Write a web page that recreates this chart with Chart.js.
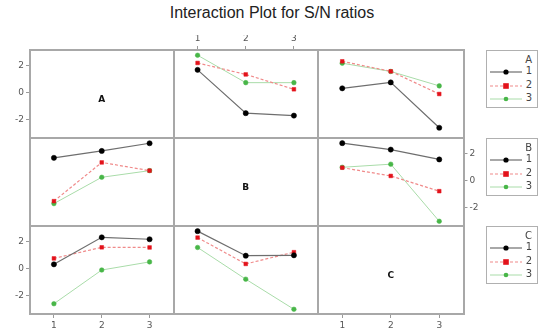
<!DOCTYPE html>
<html><head><meta charset="utf-8">
<script src="https://cdn.jsdelivr.net/npm/chart.js@4/dist/chart.umd.min.js"></script>
<style>
html,body{margin:0;padding:0;background:#fff;}
#wrap{position:relative;width:544px;height:329px;overflow:hidden;font-family:"DejaVu Sans",sans-serif;}
#wrap canvas{position:absolute;left:0;top:0;}
.ln{position:absolute;background:#a8a8a8;}
.diag{position:absolute;font-weight:bold;font-size:9px;color:#111;transform:translate(-50%,-50%);}
.leg{position:absolute;width:50px;height:56px;border:1.5px solid #b0b0b0;background:#fff;font-size:10px;color:#444;}
.leg .t{position:absolute;right:5px;top:3px;}
.leg .r{position:absolute;right:5px;}
.leg svg{position:absolute;left:3px;}
#title{position:absolute;left:0;width:544px;top:4px;text-align:center;font-family:"Liberation Sans",sans-serif;font-size:16px;color:#222;}
</style></head>
<body>
<div id="wrap"><div id="title">Interaction Plot for S/N ratios</div></div>
<script>
// ---- data ----
const factors = ['A', 'B', 'C'];
const levels = [1, 2, 3];
const levelLabels = ['1', '2', '3'];
const yTicks = [-2, 0, 2];
// rows = line factor levels, columns = x factor levels 1..3
const A_vs_B = [[1.70, -1.51, -1.69], [2.21, 1.36, 0.26], [2.78, 0.75, 0.75]];
const A_vs_C = [[0.33, 0.77, -2.59], [2.33, 1.59, -0.09], [2.19, 1.58, 0.51]];
const B_vs_A = [[1.70, 2.21, 2.78], [-1.51, 1.36, 0.75], [-1.69, 0.26, 0.75]];
const B_vs_C = [[2.79, 2.31, 1.58], [0.97, 0.36, -0.77], [1.00, 1.23, -3.00]];
const C_vs_A = [[0.33, 2.33, 2.19], [0.77, 1.59, 1.58], [-2.59, -0.09, 0.51]];
const C_vs_B = [[2.79, 0.97, 1.00], [2.31, 0.36, 1.23], [1.58, -0.77, -3.00]];

// ---- layout ----
const W = 544, H = 329;
const colEdges = [30, 173.5, 318, 463.5];
const rowEdges = [50, 138, 226, 314];
const Y_MIN = -3.35, Y_MAX = 3.17;
const X_MIN = 0.5, X_MAX = 3.5;
const AXIS = 15;
const styles = [
  {line: '#6e6e6e', fill: '#000000', point: 'circle', r: 2.6, w: 1.2, dash: []},
  {line: '#f08a8a', fill: '#e3121b', point: 'rect', r: 2.6, w: 1.2, dash: [3, 2]},
  {line: '#a9dca9', fill: '#48b648', point: 'circle', r: 2.3, w: 1, dash: []}
];
const tickFont = {family: '"DejaVu Sans", sans-serif', size: 9};
const wrap = document.getElementById('wrap');

function panel(r, c, data, xPos, yPos) {
  const cv = document.createElement('canvas');
  cv.width = W; cv.height = H;
  wrap.appendChild(cv);
  const L = colEdges[c], R = colEdges[c + 1], T = rowEdges[r], B = rowEdges[r + 1];
  const pad = {left: L, top: T, right: W - R, bottom: H - B};
  let xSize = 0, ySize = 0;
  if (xPos === 'top') { xSize = AXIS; pad.top -= AXIS; }
  if (xPos === 'bottom') { xSize = AXIS; pad.bottom -= AXIS; }
  if (yPos === 'left') { ySize = AXIS; pad.left -= AXIS; }
  if (yPos === 'right') { ySize = AXIS; pad.right -= AXIS; }
  const axisCommon = {
    grid: {drawOnChartArea: false, tickLength: 4, color: '#9a9a9a', lineWidth: 1},
    border: {display: false},
    ticks: {font: tickFont, color: '#555', padding: 2, autoSkip: false, maxRotation: 0}
  };
  const datasets = data ? data.map((vals, i) => ({
    label: levelLabels[i],
    data: levels.map((x, j) => ({x: x, y: vals[j]})),
    borderColor: styles[i].line,
    borderWidth: styles[i].w,
    borderDash: styles[i].dash,
    pointStyle: styles[i].point,
    pointRadius: styles[i].r,
    pointBackgroundColor: styles[i].fill,
    pointBorderColor: styles[i].fill,
    pointBorderWidth: 0.5,
    fill: false,
    tension: 0,
    clip: false
  })) : [];
  new Chart(cv, {
    type: 'line',
    data: {datasets},
    options: {
      responsive: false, animation: false, devicePixelRatio: 1,
      layout: {padding: pad},
      plugins: {legend: {display: false}, title: {display: false}, tooltip: {enabled: false}},
      events: [],
      scales: {
        x: Object.assign({}, axisCommon, {
          type: 'linear', min: X_MIN, max: X_MAX,
          position: xPos || 'bottom', display: !!xPos,
          afterBuildTicks: s => { s.ticks = levels.map(v => ({value: v})); },
          afterFit: s => { s.height = xSize; },
          ticks: Object.assign({}, axisCommon.ticks, {callback: v => String(v)})
        }),
        y: Object.assign({}, axisCommon, {
          type: 'linear', min: Y_MIN, max: Y_MAX,
          position: yPos || 'left', display: !!yPos,
          afterBuildTicks: s => { s.ticks = yTicks.map(v => ({value: v})); },
          afterFit: s => { s.width = ySize; },
          ticks: Object.assign({}, axisCommon.ticks, {callback: v => String(v)})
        })
      }
    }
  });
}

// row A
panel(0, 0, null, null, 'left');
panel(0, 1, A_vs_B, 'top', null);
panel(0, 2, A_vs_C, null, null);
// row B
panel(1, 0, B_vs_A, null, null);
panel(1, 1, null, null, null);
panel(1, 2, B_vs_C, null, 'right');
// row C
panel(2, 0, C_vs_A, 'bottom', 'left');
panel(2, 1, C_vs_B, null, null);
panel(2, 2, null, 'bottom', null);

// panel frame lines
function line(x, y, w, h) {
  const d = document.createElement('div');
  d.className = 'ln';
  d.style.left = x + 'px'; d.style.top = y + 'px'; d.style.width = w + 'px'; d.style.height = h + 'px';
  wrap.appendChild(d);
}
colEdges.forEach(x => line(x - 1, rowEdges[0] - 1, 2, rowEdges[3] - rowEdges[0] + 2));
rowEdges.forEach(y => line(colEdges[0] - 1, y - 1, colEdges[3] - colEdges[0] + 2, 2));

// diagonal labels
factors.forEach((f, i) => {
  const d = document.createElement('div');
  d.className = 'diag';
  d.textContent = f;
  d.style.left = ((colEdges[i] + colEdges[i + 1]) / 2) + 'px';
  d.style.top = ((rowEdges[i] + rowEdges[i + 1]) / 2 + 5) + 'px';
  wrap.appendChild(d);
});

// legends
factors.forEach((f, i) => {
  const g = document.createElement('div');
  g.className = 'leg';
  g.style.left = '486px';
  g.style.top = (rowEdges[i]) + 'px';
  let html = '<div class="t">' + f + '</div>';
  levelLabels.forEach((lab, k) => {
    const s = styles[k];
    const cy = 21 + k * 13.5;
    const mk = s.point === 'rect'
      ? '<rect x="13.2" y="2.2" width="5.6" height="5.6" fill="' + s.fill + '"/>'
      : '<circle cx="16" cy="5" r="' + s.r + '" fill="' + s.fill + '"/>';
    html += '<svg width="32" height="10" style="top:' + (cy - 5) + 'px">' +
      '<line x1="0" y1="5" x2="32" y2="5" stroke="' + s.line + '" stroke-width="' + s.w + '"' +
      (s.dash.length ? ' stroke-dasharray="' + s.dash.join(',') + '"' : '') + '/>' + mk + '</svg>';
    html += '<div class="r" style="top:' + (cy - 7) + 'px">' + lab + '</div>';
  });
  g.innerHTML = html;
  wrap.appendChild(g);
});
</script>
</body></html>
